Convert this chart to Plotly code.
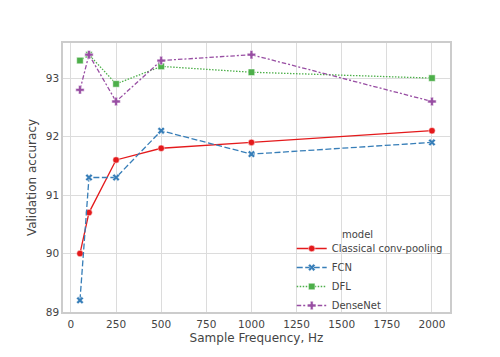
import plotly.graph_objects as go

freqs = [50, 100, 250, 500, 1000, 2000]
classical = [90.0, 90.7, 91.6, 91.8, 91.9, 92.1]
fcn = [89.2, 91.3, 91.3, 92.1, 91.7, 91.9]
dfl = [93.3, 93.4, 92.9, 93.2, 93.1, 93.0]
densenet = [92.8, 93.4, 92.6, 93.3, 93.4, 92.6]
x_ticks = [0, 250, 500, 750, 1000, 1250, 1500, 1750, 2000]
y_ticks = [89, 90, 91, 92, 93]

series = [
    ("Classical conv-pooling", classical, "#e41a1c", "solid", "circle", 6.5),
    ("FCN", fcn, "#377eb8", "6px,2.5px", "x", 6.5),
    ("DFL", dfl, "#4daf4a", "1.5px,1.5px", "square", 6.5),
    ("DenseNet", densenet, "#984ea3", "4.5px,2px,2px,2px", "cross", 7),
]

fig = go.Figure()
for name, vals, col, dash, sym, sz in series:
    fig.add_trace(go.Scatter(
        x=freqs, y=vals, name=name, mode="lines+markers",
        line=dict(color=col, width=1.3, dash=dash),
        marker=dict(symbol=sym, size=sz, color=col, line=dict(color="white", width=0.5)),
    ))

fig.update_layout(
    width=492, height=349,
    margin=dict(l=55, r=50, t=35, b=45),
    paper_bgcolor="white", plot_bgcolor="white",
    font=dict(family="DejaVu Sans", size=11, color="#444"),
    legend=dict(
        x=0.591, y=0.29, xanchor="left", yanchor="top",
        bgcolor="rgba(255,255,255,0)", font=dict(size=10, color="#444"),
        tracegroupgap=0, itemwidth=30,
    ),
    showlegend=True,
    annotations=[dict(
        text="model", xref="paper", yref="paper", x=0.7165, y=0.288,
        xanchor="left", yanchor="middle", showarrow=False,
        font=dict(size=10, color="#444"),
    )],
)
fig.update_xaxes(
    range=[-44, 2100], tickvals=x_ticks,
    showgrid=True, gridcolor="#dcdcdc", gridwidth=1.2,
    showline=True, linecolor="#cccccc", linewidth=1.5, mirror=True,
    zeroline=False, ticks="", ticklabelstandoff=2,
    title=dict(text="Sample Frequency, Hz", font=dict(size=12), standoff=4),
    tickfont=dict(size=10.5),
)
fig.update_yaxes(
    range=[89, 93.6], tickvals=y_ticks,
    showgrid=True, gridcolor="#dcdcdc", gridwidth=1.2,
    showline=True, linecolor="#cccccc", linewidth=1.5, mirror=True,
    zeroline=False, ticks="",
    title=dict(text="Validation accuracy", font=dict(size=12), standoff=7),
    tickfont=dict(size=10.5),
)

fig.write_html("out.html")
